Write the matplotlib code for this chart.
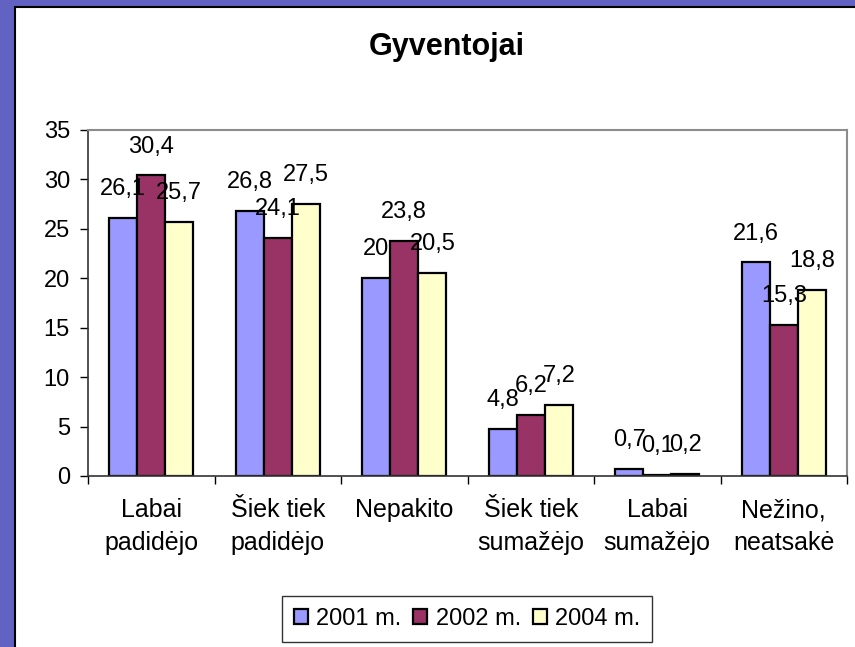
import matplotlib.pyplot as plt
import matplotlib.patches as patches
import numpy as np

plt.rcParams['font.family'] = ['Liberation Sans', 'DejaVu Sans']

# Data
categories = ['Labai\npadidėjo', 'Šiek tiek\npadidėjo', 'Nepakito',
              'Šiek tiek\nsumažėjo', 'Labai\nsumažėjo', 'Nežino,\nneatsakė']
series_names = ['2001 m.', '2002 m.', '2004 m.']
v2001 = [26.1, 26.8, 20, 4.8, 0.7, 21.6]
v2002 = [30.4, 24.1, 23.8, 6.2, 0.1, 15.3]
v2004 = [25.7, 27.5, 20.5, 7.2, 0.2, 18.8]
colors = ['#9999FF', '#993366', '#FFFFCC']


def fmt(v):
    # Lithuanian decimal comma
    s = ('%g' % v)
    return s.replace('.', ',')


fig = plt.figure(figsize=(8.55, 6.47), dpi=100)
fig.patch.set_facecolor('#6262c2')
# White slide panel with a black edge, kept behind the axes
panel = patches.Rectangle((15 / 855, -0.01), 1.0, 1 - 7 / 647 + 0.01,
                          transform=fig.transFigure, facecolor='white',
                          edgecolor='black', linewidth=1.5, zorder=-10)
fig.patches.append(panel)

ax = fig.add_axes([88 / 855, 1 - 476 / 647, (847 - 88) / 855, (476 - 130) / 647])
ax.set_facecolor('white')

pos = np.arange(len(categories))
width = 0.222
allvals = [v2001, v2002, v2004]
for k, vals in enumerate(allvals):
    x = pos + (k - 1) * width
    ax.bar(x, vals, width, color=colors[k], edgecolor='black', linewidth=1.6,
           label=series_names[k], zorder=2)
    for xi, v in zip(x, vals):
        ax.annotate(fmt(v), (xi, v), xytext=(0, 16.5), textcoords='offset points',
                    ha='center', va='baseline', fontsize=17, zorder=3,
                    annotation_clip=False)

ax.set_xlim(-0.5, len(categories) - 0.5)
ax.set_ylim(0, 35)
ax.set_yticks(np.arange(0, 36, 5))
ax.tick_params(axis='y', labelsize=17, length=6, width=1, direction='out', pad=7)
ax.set_xticks(pos)
ax.set_xticklabels(categories, fontsize=18, linespacing=1.45)
ax.set_xticks(np.arange(-0.5, len(categories), 1), minor=True)
ax.tick_params(axis='x', which='major', length=0, pad=16)
ax.tick_params(axis='x', which='minor', length=6, width=1, direction='out')

for side in ['left', 'bottom']:
    ax.spines[side].set_color('#333333')
    ax.spines[side].set_linewidth(1.2)
for side in ['top', 'right']:
    ax.spines[side].set_color('#8c8c8c')
    ax.spines[side].set_linewidth(1.5)

fig.text(0.522, 1 - 47 / 647, 'Gyventojai', ha='center', va='center',
         fontsize=22, fontweight='bold')

leg = fig.legend(loc='center', bbox_to_anchor=(467 / 855, 1 - 619 / 647), ncol=3,
                 fontsize=17, frameon=True, fancybox=False, handlelength=0.6,
                 handleheight=0.6, handletextpad=0.35, columnspacing=0.5,
                 borderpad=0.5, edgecolor='black')
leg.get_frame().set_linewidth(1.0)

fig.savefig('out.png', dpi=100, facecolor=fig.get_facecolor())
